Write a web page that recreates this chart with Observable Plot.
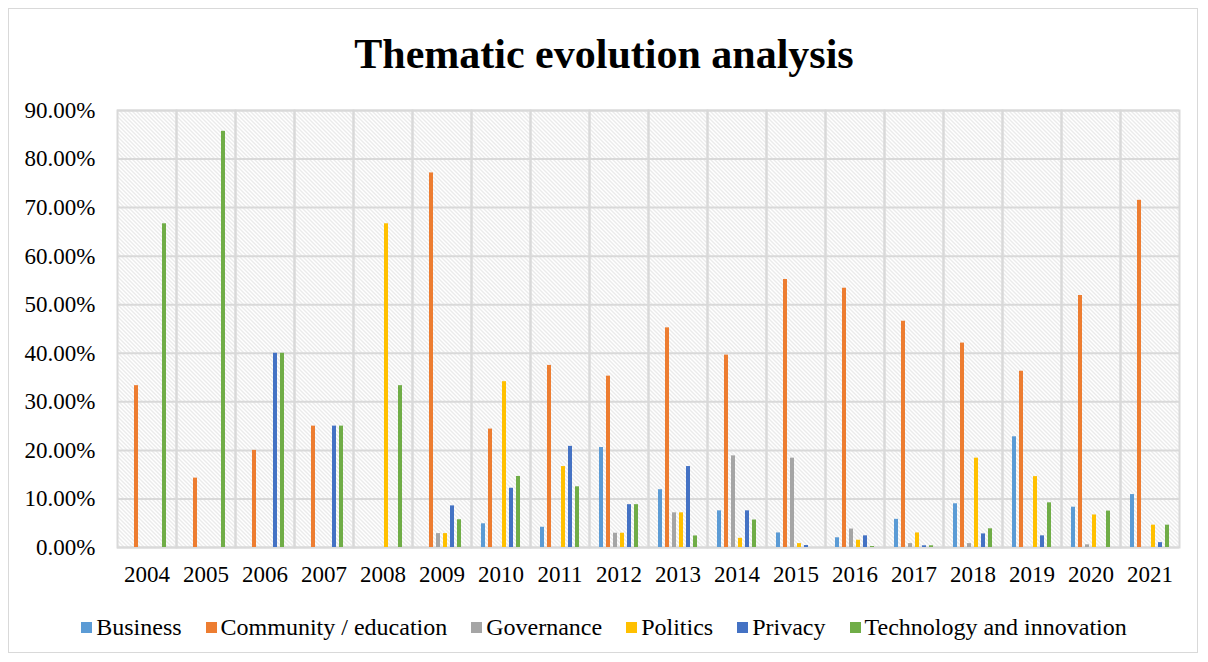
<!DOCTYPE html>
<html>
<head>
<meta charset="utf-8">
<script src="https://cdn.jsdelivr.net/npm/d3@7"></script>
<script src="https://cdn.jsdelivr.net/npm/@observablehq/plot@0.6"></script>
<style>
  html, body { margin: 0; padding: 0; background: #fff; }
  body { width: 1208px; height: 662px; position: relative; overflow: hidden; font-family: "Liberation Serif", "Times New Roman", serif; color: #000; }
  #border { position: absolute; left: 8px; top: 8px; width: 1190px; height: 645px; border: 1px solid #d9d9d9; box-sizing: border-box; pointer-events: none; }
  #title { height: 95px; display: flex; align-items: center; justify-content: center; font-weight: bold; font-size: 42px; padding-top: 12px; box-sizing: border-box; }
  #chart svg { display: block; }
  #legend { display: flex; justify-content: center; align-items: center; height: 45px; font-size: 24px; }
  .item { display: flex; align-items: center; margin: 0 12px; }
  .sw { width: 11px; height: 11px; margin-right: 4px; }
</style>
</head>
<body>
<div id="border"></div>
<div id="title">Thematic evolution analysis</div>
<div id="chart"></div>
<div id="legend"></div>
<script>
const years = ["2004","2005","2006","2007","2008","2009","2010","2011","2012","2013","2014","2015","2016","2017","2018","2019","2020","2021"];
const seriesNames = ["Business","Community / education","Governance","Politics","Privacy","Technology and innovation"];
const seriesColors = ["#5B9BD5","#ED7D31","#A5A5A5","#FFC000","#4472C4","#70AD47"];

const business   = [0,0,0,0,0,0,4.88,4.17,20.59,11.90,7.55,3.00,2.00,5.80,9.00,22.80,8.30,10.90];
const community  = [33.33,14.29,20.00,25.00,0,77.14,24.39,37.50,35.29,45.24,39.62,55.20,53.40,46.60,42.10,36.30,51.90,71.50];
const governance = [0,0,0,0,0,2.86,0,0,2.94,7.14,18.87,18.40,3.80,0.80,0.80,0,0.55,0];
const politics   = [0,0,0,0,66.67,2.86,34.15,16.67,2.94,7.14,1.89,0.80,1.50,3.00,18.40,14.60,6.70,4.60];
const privacy    = [0,0,40.00,25.00,0,8.57,12.20,20.83,8.82,16.67,7.55,0.40,2.40,0.35,2.80,2.40,0,1.00];
const technology = [66.67,85.71,40.00,25.00,33.33,5.71,14.63,12.50,8.82,2.38,5.66,0,0.20,0.35,3.85,9.20,7.50,4.60];

const yTicks = [0,10,20,30,40,50,60,70,80,90];

const seriesValues = [business, community, governance, politics, privacy, technology];
const rows = [];
years.forEach((yr, i) => {
  seriesNames.forEach((s, j) => {
    rows.push({year: yr, series: s, value: seriesValues[j][i]});
  });
});

const svg = Plot.plot({
  width: 1208,
  height: 510,
  marginLeft: 117,
  marginRight: 29,
  marginTop: 15,
  marginBottom: 58,
  style: {fontFamily: "Liberation Serif, Times New Roman, serif", fontSize: "23px", color: "#000", background: "transparent"},
  facet: {data: rows, x: "year"},
  fx: {domain: years, padding: 0, label: null, tickSize: 0, tickPadding: 18, axis: "bottom"},
  x: {domain: seriesNames, paddingInner: 0.4, paddingOuter: 1, axis: null},
  y: {domain: [0, 90], ticks: yTicks, tickFormat: d => d.toFixed(2) + "%", tickSize: 0, tickPadding: 22, label: null, grid: false},
  color: {domain: seriesNames, range: seriesColors},
  marks: [
    Plot.frame({fill: "#fefefe", stroke: "none", ariaLabel: "hatchframe"}),
    Plot.ruleY(yTicks, {stroke: "#d9d9d9", strokeWidth: 2}),
    Plot.frame({stroke: "#d9d9d9", strokeWidth: 2}),
    Plot.barY(rows, {x: "series", y: "value", fill: "series"})
  ]
});

// hatch pattern background
const ns = "http://www.w3.org/2000/svg";
const defs = document.createElementNS(ns, "defs");
const pat = document.createElementNS(ns, "pattern");
pat.setAttribute("id", "hatch");
pat.setAttribute("patternUnits", "userSpaceOnUse");
pat.setAttribute("width", "4");
pat.setAttribute("height", "4");
const bg = document.createElementNS(ns, "rect");
bg.setAttribute("width", "4"); bg.setAttribute("height", "4"); bg.setAttribute("fill", "#ffffff");
pat.appendChild(bg);
[["0","0","4","4"],["-1","3","1","5"],["3","-1","5","1"]].forEach(([x1,y1,x2,y2]) => {
  const l = document.createElementNS(ns, "line");
  l.setAttribute("x1", x1); l.setAttribute("y1", y1); l.setAttribute("x2", x2); l.setAttribute("y2", y2);
  l.setAttribute("stroke", "#d6d6d6"); l.setAttribute("stroke-width", "1");
  pat.appendChild(l);
});
defs.appendChild(pat);
svg.insertBefore(defs, svg.firstChild);
d3.select(svg).selectAll('g[aria-label="hatchframe"]').attr("fill", "url(#hatch)")
  .selectAll("rect").attr("fill", "url(#hatch)");

document.getElementById("chart").appendChild(svg);

const legend = document.getElementById("legend");
seriesNames.forEach((s, j) => {
  const it = document.createElement("div");
  it.className = "item";
  const sw = document.createElement("div");
  sw.className = "sw";
  sw.style.background = seriesColors[j];
  const tx = document.createElement("span");
  tx.textContent = s;
  it.appendChild(sw); it.appendChild(tx);
  legend.appendChild(it);
});
</script>
</body>
</html>
